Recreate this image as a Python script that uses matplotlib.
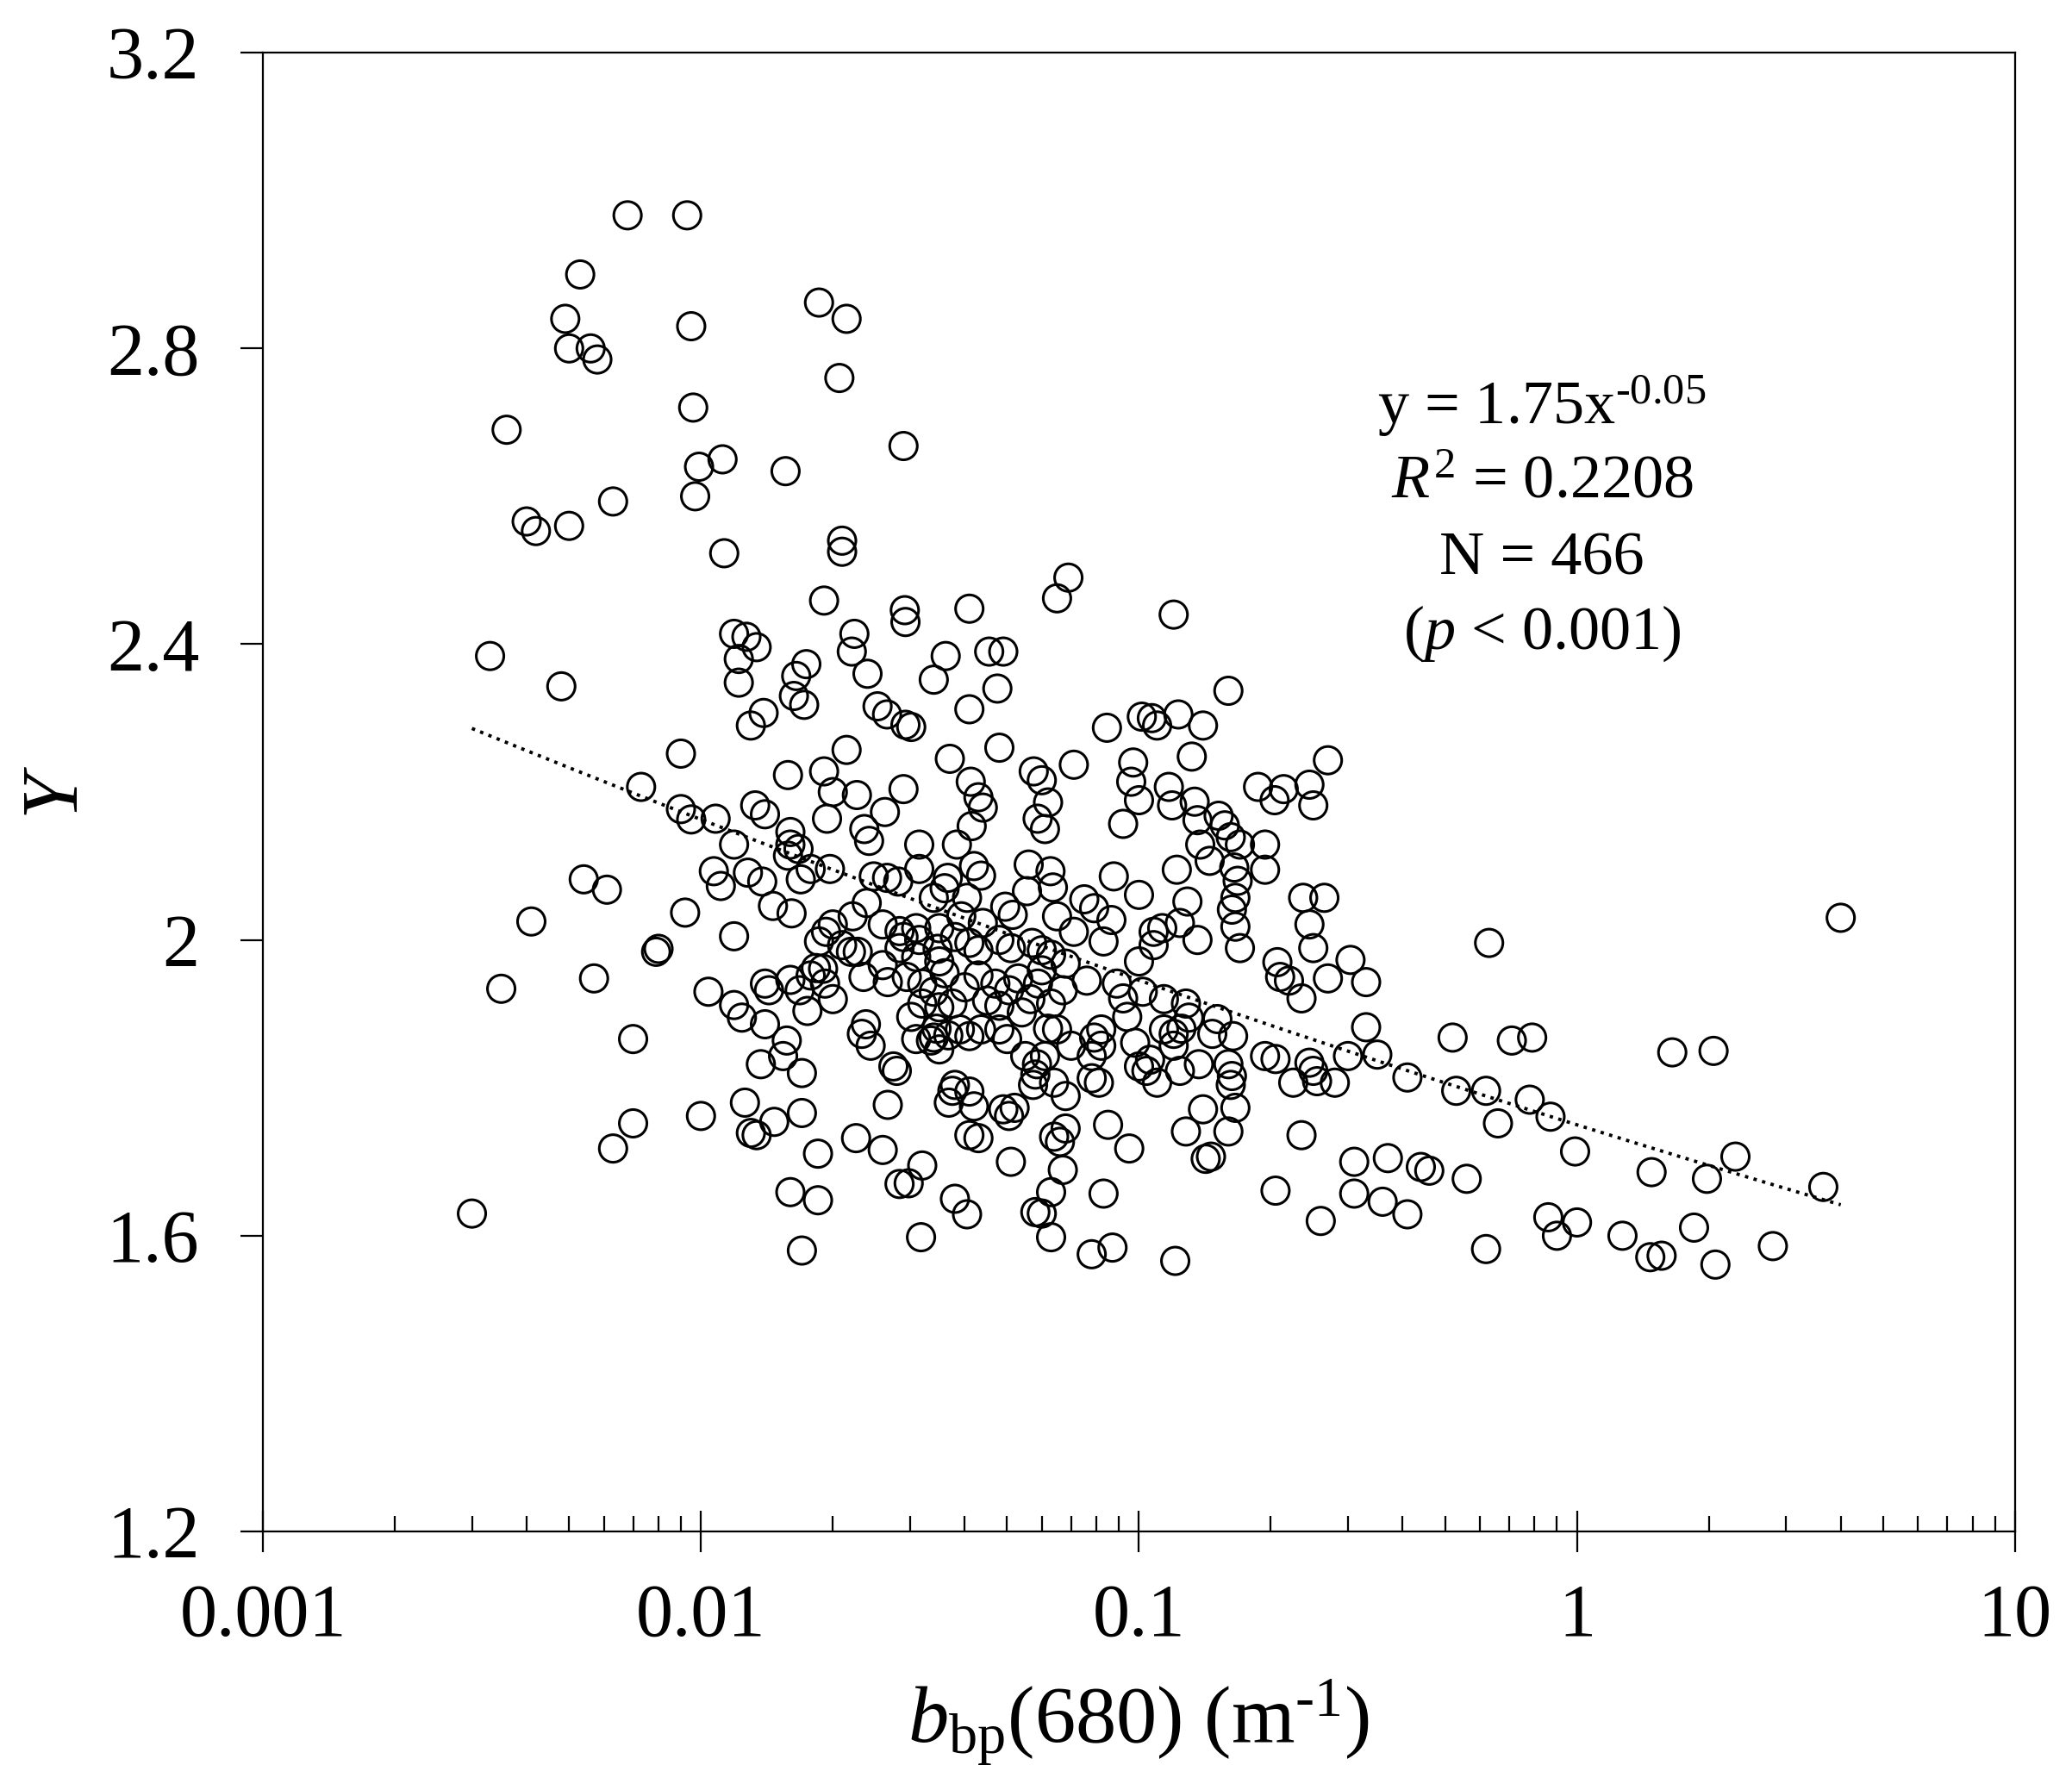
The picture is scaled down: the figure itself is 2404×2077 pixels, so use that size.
import numpy as np
import matplotlib
matplotlib.use('Agg')
import matplotlib.pyplot as plt
from matplotlib.ticker import LogLocator, NullFormatter

plt.rcParams['font.family'] = ['Liberation Serif', 'DejaVu Serif']
plt.rcParams['mathtext.fontset'] = 'custom'
plt.rcParams['mathtext.rm'] = 'Liberation Serif'
plt.rcParams['mathtext.it'] = 'Liberation Serif:italic'

# bbp(680) values
bbp = [
    0.0068, 0.0093, 0.0053, 0.0049, 0.0050, 0.0056, 0.0058, 0.0186, 0.0215, 0.0095,
    0.0207, 0.0096, 0.0036, 0.029, 0.0099, 0.0112, 0.0156, 0.0063, 0.0097, 0.0040,
    0.0042, 0.0050, 0.0113, 0.021, 0.021, 0.069, 0.065, 0.12, 0.0191, 0.0292,
    0.0293, 0.041, 0.0119, 0.0127, 0.0134, 0.0224, 0.0221, 0.0033, 0.0362, 0.0455,
    0.049, 0.0122, 0.0174, 0.0165, 0.024, 0.0122, 0.0048, 0.034, 0.0475, 0.16,
    0.0163, 0.0172, 0.0139, 0.0253, 0.041, 0.013, 0.0266, 0.0293, 0.0302, 0.0845,
    0.1015, 0.107, 0.11, 0.123, 0.14, 0.009, 0.0215, 0.037, 0.048, 0.071,
    0.132, 0.27, 0.0073, 0.0158, 0.0191, 0.029, 0.0413, 0.0575, 0.06, 0.097,
    0.096, 0.117, 0.187, 0.214, 0.245, 0.02, 0.0227, 0.043, 0.044, 0.062,
    0.1, 0.119, 0.134, 0.152, 0.204, 0.25, 0.009, 0.0095, 0.0108, 0.0133,
    0.014, 0.0194, 0.0263, 0.0415, 0.0587, 0.092, 0.136, 0.157, 0.0119, 0.016,
    0.016, 0.0236, 0.0242, 0.0315, 0.0384, 0.061, 0.138, 0.162, 0.17, 0.194,
    0.0167, 0.0158, 0.0128, 0.0138, 0.0169, 0.0178, 0.0197, 0.0248, 0.0266, 0.0282,
    0.0315, 0.0366, 0.042, 0.0436, 0.056, 0.0628, 0.0876, 0.122, 0.145, 0.165,
    0.168, 0.194, 0.0107, 0.0111, 0.0054, 0.0061, 0.0146, 0.0161, 0.0239, 0.034,
    0.036, 0.0405, 0.0495, 0.0555, 0.0636, 0.075, 0.079, 0.1, 0.129, 0.163,
    0.166, 0.237, 0.265, 0.245, 0.0041, 0.0092, 0.02, 0.0222, 0.026, 0.0284,
    0.031, 0.035, 0.0393, 0.044, 0.0515, 0.065, 0.0865, 0.108, 0.124, 0.108,
    0.113, 0.136, 0.166, 0.17, 0.25, 0.63, 4.0, 0.0079, 0.008, 0.0119,
    0.0186, 0.0193, 0.021, 0.022, 0.029, 0.0315, 0.0347, 0.038, 0.041, 0.043,
    0.048, 0.051, 0.057, 0.06, 0.063, 0.071, 0.083, 0.304, 0.207, 0.21,
    0.22, 0.27, 0.33, 0.235, 0.0035, 0.0057, 0.0104, 0.0119, 0.0124, 0.014,
    0.0143, 0.014, 0.016, 0.0168, 0.0178, 0.0175, 0.019, 0.02, 0.0228, 0.0235,
    0.026, 0.0295, 0.032, 0.035, 0.036, 0.034, 0.032, 0.0302, 0.035, 0.0375,
    0.04, 0.043, 0.045, 0.047, 0.048, 0.0505, 0.053, 0.054, 0.0565, 0.0588,
    0.06, 0.063, 0.067, 0.068, 0.076, 0.089, 0.092, 0.094, 0.1, 0.102,
    0.114, 0.128, 0.13, 0.151, 0.147, 0.164, 0.114, 0.12, 0.125, 0.12,
    0.098, 0.1, 0.106, 0.104, 0.11, 0.124, 0.137, 0.16, 0.163, 0.162,
    0.082, 0.079, 0.082, 0.078, 0.078, 0.081, 0.07, 0.062, 0.065, 0.061,
    0.0585, 0.058, 0.064, 0.0573, 0.068, 0.055, 0.05, 0.048, 0.0436, 0.041,
    0.039, 0.0367, 0.0335, 0.035, 0.034, 0.031, 0.0345, 0.0244, 0.0275, 0.028,
    0.0154, 0.017, 0.0157, 0.007, 0.33, 0.35, 0.30, 0.194, 0.205, 0.225,
    0.245, 0.25, 0.255, 0.28, 0.41, 0.52, 0.53, 0.62, 0.71, 0.79,
    0.78, 0.87, 0.66, 0.56, 0.99, 0.86, 0.9, 1.0, 0.62, 1.27,
    1.47, 1.56, 1.48, 1.65, 2.05, 1.98, 2.07, 2.3, 2.8, 3.65,
    1.85, 0.37, 0.31, 0.31, 0.36, 0.41, 0.44, 0.46, 0.205, 0.26,
    0.235, 0.166, 0.16, 0.146, 0.142, 0.128, 0.14, 0.121, 0.095, 0.085,
    0.083, 0.087, 0.078, 0.068, 0.066, 0.064, 0.067, 0.063, 0.06, 0.063,
    0.058, 0.051, 0.052, 0.0505, 0.049, 0.042, 0.043, 0.041, 0.0375, 0.038,
    0.0368, 0.041, 0.038, 0.0405, 0.0318, 0.032, 0.0298, 0.0284, 0.026, 0.0226,
    0.0267, 0.0185, 0.0185, 0.017, 0.016, 0.017, 0.0147, 0.0134, 0.013, 0.0126,
    0.01, 0.007, 0.0063, 0.003, 0.0137, 0.0233, 0.0238, 0.0267, 0.0284, 0.031,
    0.0192, 0.0183,
]

# Y values, same order
y_vals = [
    2.98, 2.98, 2.90, 2.84, 2.80, 2.80, 2.785, 2.862, 2.84, 2.83,
    2.76, 2.72, 2.69, 2.668, 2.64, 2.65, 2.634, 2.593, 2.60, 2.566,
    2.553, 2.56, 2.523, 2.54, 2.525, 2.49, 2.462, 2.44, 2.459, 2.446,
    2.43, 2.448, 2.414, 2.41, 2.396, 2.414, 2.39, 2.384, 2.384, 2.39,
    2.39, 2.38, 2.373, 2.357, 2.36, 2.348, 2.343, 2.352, 2.34, 2.337,
    2.33, 2.318, 2.307, 2.316, 2.312, 2.29, 2.305, 2.291, 2.288, 2.287,
    2.302, 2.30, 2.29, 2.305, 2.29, 2.252, 2.257, 2.245, 2.26, 2.237,
    2.248, 2.243, 2.207, 2.223, 2.228, 2.204, 2.214, 2.228, 2.216, 2.24,
    2.214, 2.207, 2.207, 2.204, 2.21, 2.20, 2.196, 2.193, 2.179, 2.186,
    2.189, 2.182, 2.187, 2.168, 2.189, 2.182, 2.177, 2.163, 2.164, 2.182,
    2.17, 2.164, 2.173, 2.154, 2.164, 2.157, 2.162, 2.155, 2.129, 2.146,
    2.129, 2.15, 2.134, 2.129, 2.129, 2.15, 2.129, 2.139, 2.129, 2.129,
    2.123, 2.114, 2.091, 2.079, 2.082, 2.096, 2.096, 2.086, 2.084, 2.079,
    2.096, 2.084, 2.1, 2.087, 2.102, 2.093, 2.086, 2.095, 2.107, 2.098,
    2.08, 2.095, 2.093, 2.073, 2.082, 2.068, 2.046, 2.036, 2.05, 2.057,
    2.07, 2.057, 2.045, 2.066, 2.071, 2.055, 2.043, 2.061, 2.052, 2.041,
    2.057, 2.057, 2.057, 2.021, 2.025, 2.037, 2.021, 2.032, 2.021, 2.012,
    2.016, 2.016, 2.032, 2.023, 2.034, 2.032, 2.027, 2.011, 2.023, 1.993,
    2.016, 2.0, 2.018, 1.989, 1.989, 1.996, 2.03, 1.984, 1.988, 2.005,
    1.998, 2.011, 1.993, 1.984, 2.004, 2.0, 1.988, 2.004, 1.996, 1.986,
    2.0, 1.989, 1.996, 1.986, 1.98, 2.011, 1.998, 1.973, 1.97, 1.95,
    1.945, 1.948, 1.943, 1.921, 1.934, 1.948, 1.93, 1.912, 1.895, 1.941,
    1.932, 1.886, 1.946, 1.932, 1.952, 1.904, 1.961, 1.92, 1.984, 1.95,
    1.966, 1.95, 1.941, 1.971, 1.955, 1.93, 1.914, 1.896, 1.909, 1.914,
    1.936, 1.952, 1.918, 1.941, 1.911, 1.932, 1.948, 1.902, 1.92, 1.941,
    1.959, 1.914, 1.932, 1.968, 1.945, 1.941, 1.921, 1.896, 1.971, 1.93,
    1.92, 1.914, 1.895, 1.893, 1.873, 1.87, 1.879, 1.873, 1.88, 1.857,
    1.861, 1.829, 1.838, 1.823, 1.807, 1.823, 1.832, 1.832, 1.816, 1.804,
    1.879, 1.868, 1.857, 1.843, 1.813, 1.807, 1.857, 1.88, 1.879, 1.843,
    1.832, 1.818, 1.807, 1.804, 1.789, 1.843, 1.866, 1.879, 1.879, 1.87,
    1.879, 1.871, 1.864, 1.852, 1.868, 1.866, 1.88, 1.857, 1.829, 1.823,
    1.843, 1.82, 1.864, 1.866, 1.882, 1.845, 1.843, 1.843, 1.839, 1.807,
    1.834, 1.823, 1.809, 1.807, 1.814, 1.868, 1.796, 1.796, 1.864, 1.868,
    1.784, 1.761, 1.752, 1.677, 1.714, 1.625, 1.6, 1.618, 1.582, 1.6,
    1.571, 1.573, 1.686, 1.848, 1.85, 1.677, 1.561, 1.707, 1.586, 1.666,
    1.611, 1.705, 1.7, 1.657, 1.646, 1.629, 1.693, 1.688, 1.661, 1.62,
    1.736, 1.773, 1.741, 1.707, 1.704, 1.741, 1.771, 1.566, 1.718, 1.75,
    1.657, 1.584, 1.575, 1.745, 1.727, 1.734, 1.689, 1.659, 1.63, 1.598,
    1.632, 1.7, 1.773, 1.762, 1.771, 1.775, 1.732, 1.736, 1.796, 1.804,
    1.78, 1.795, 1.65, 1.629, 1.598, 1.695, 1.671, 1.67, 1.716, 1.732,
    1.777, 1.711, 1.648, 1.58, 1.659, 1.766, 1.754, 1.736, 1.739, 1.78,
    1.762, 1.752, 1.718, 1.63, 1.832, 1.873, 1.886, 1.943, 1.989, 1.977,
    1.941, 1.962,
]

# power-law fit shown as dotted line
fit_a = 1.75
fit_b = -0.046
fit_range = [0.003, 4.0]

x_ticks = [0.001, 0.01, 0.1, 1, 10]
x_tick_labels = ['0.001', '0.01', '0.1', '1', '10']
y_ticks = [1.2, 1.6, 2.0, 2.4, 2.8, 3.2]
y_tick_labels = ['1.2', '1.6', '2', '2.4', '2.8', '3.2']

fig = plt.figure(figsize=(24.04, 20.77), dpi=100)
ax = fig.add_axes([0.1269, 0.1444, 0.8456, 0.8262])

ax.scatter(bbp, y_vals, s=530, facecolors='none', edgecolors='black',
           linewidths=2.2, zorder=3)

x_fit = np.logspace(np.log10(fit_range[0]), np.log10(fit_range[1]), 200)
ax.plot(x_fit, fit_a * x_fit ** fit_b, linestyle=':', color='black',
        linewidth=2.8, zorder=4)

ax.set_xscale('log')
ax.set_xlim(0.001, 10)
ax.set_ylim(1.2, 3.2)
ax.set_xticks(x_ticks)
ax.set_xticklabels(x_tick_labels)
ax.xaxis.set_minor_locator(LogLocator(base=10, subs=np.arange(2, 10)))
ax.xaxis.set_minor_formatter(NullFormatter())
ax.set_yticks(y_ticks)
ax.set_yticklabels(y_tick_labels)

for sp in ax.spines.values():
    sp.set_linewidth(1.6)

ax.tick_params(axis='x', which='major', direction='inout', length=34,
               width=1.6, labelsize=62, pad=26)
ax.tick_params(axis='x', which='minor', direction='in', length=13, width=1.6)
ax.tick_params(axis='y', which='major', direction='out', length=19,
               width=1.6, labelsize=62, pad=34)
ax.tick_params(top=False, right=False, which='both')

# hyphen (U+2010) instead of the math minus, like the original
ax.set_xlabel('$\\mathit{b}_{\\mathregular{bp}}$(680) (m$^{\\mathregular{\u20101}}$)',
              fontsize=68, labelpad=22)
ax.set_ylabel(r'$\mathit{Y}$', fontsize=68, labelpad=10)

ax.text(0.730, 0.749, 'y = 1.75x$^{\\mathregular{\u20100.05}}$', transform=ax.transAxes,
        fontsize=52, ha='center', va='baseline')
ax.text(0.730, 0.699, r'$\mathit{R}^{\mathregular{2}}$ = 0.2208', transform=ax.transAxes,
        fontsize=52, ha='center', va='baseline')
ax.text(0.730, 0.647, 'N = 466', transform=ax.transAxes,
        fontsize=52, ha='center', va='baseline')
ax.text(0.730, 0.597, r'($\mathit{p}$ < 0.001)', transform=ax.transAxes,
        fontsize=52, ha='center', va='baseline')

fig.savefig('out.png', dpi=100)
